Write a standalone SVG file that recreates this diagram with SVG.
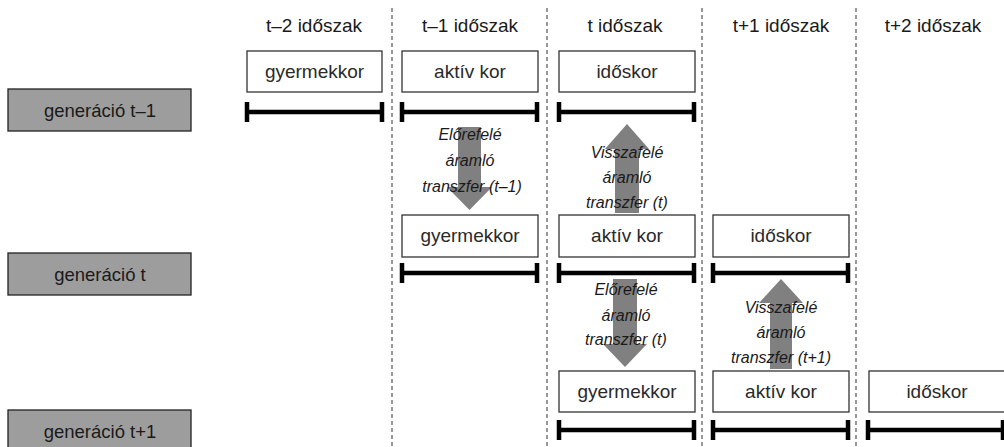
<svg xmlns="http://www.w3.org/2000/svg" width="1004" height="447" viewBox="0 0 1004 447">
<style>
.hdr{font-family:"Liberation Sans",Arial,sans-serif;font-size:19px;fill:#1a1a1a;text-anchor:middle}
.lbl{font-family:"Liberation Sans",Arial,sans-serif;font-size:19px;fill:#2a2a2a;text-anchor:middle}
.gen{font-family:"Liberation Sans",Arial,sans-serif;font-size:18.5px;fill:#1a1a1a;text-anchor:middle}
.it{font-family:"Liberation Sans",Arial,sans-serif;font-size:16px;font-style:italic;fill:#1a1a1a;text-anchor:middle}
.box{fill:#fff;stroke:#333;stroke-width:1.3}
.gbox{fill:#9d9d9d;stroke:#222;stroke-width:1.3}
.bar{stroke:#000;stroke-width:4.5;fill:none}
.sep{stroke:#777;stroke-width:1.5;stroke-dasharray:4 3;fill:none}
.arr{fill:#808080}
</style>
<defs>
<g id="span"><path class="bar" d="M0,0 H135 M0,-10 V10 M135,-10 V10"/></g>
</defs>
<g id="separators">
<line class="sep" x1="392" y1="8" x2="392" y2="447"/>
<line class="sep" x1="547" y1="8" x2="547" y2="447"/>
<line class="sep" x1="702" y1="8" x2="702" y2="447"/>
<line class="sep" x1="856" y1="8" x2="856" y2="447"/>
</g>
<g id="headers">
<text class="hdr" x="314" y="32">t–2 időszak</text>
<text class="hdr" x="470" y="32">t–1 időszak</text>
<text class="hdr" x="625" y="32">t időszak</text>
<text class="hdr" x="781" y="32">t+1 időszak</text>
<text class="hdr" x="933" y="32">t+2 időszak</text>
</g>
<g id="gen-t-1"><rect class="gbox" x="8" y="89" width="183" height="42"/><text class="gen" x="100" y="117">generáció t–1</text></g>
<g id="gen-t"><rect class="gbox" x="8" y="253" width="183" height="42"/><text class="gen" x="100" y="281">generáció t</text></g>
<g id="gen-t+1"><rect class="gbox" x="8" y="410" width="183" height="42"/><text class="gen" x="100" y="438">generáció t+1</text></g>
<g id="r1-child"><rect class="box" x="247" y="51" width="135" height="41"/><text class="lbl" x="314.5" y="78">gyermekkor</text><use href="#span" x="247" y="112"/></g>
<g id="r1-active"><rect class="box" x="402" y="51" width="136" height="41"/><text class="lbl" x="470" y="78">aktív kor</text><use href="#span" x="402" y="112"/></g>
<g id="r1-old"><rect class="box" x="559" y="51" width="136" height="41"/><text class="lbl" x="627" y="78">időskor</text><use href="#span" x="559" y="112"/></g>
<g id="r2-child"><rect class="box" x="402" y="215" width="136" height="42"/><text class="lbl" x="470" y="242">gyermekkor</text><use href="#span" x="402" y="273"/></g>
<g id="r2-active"><rect class="box" x="559" y="215" width="136" height="42"/><text class="lbl" x="627" y="242">aktív kor</text><use href="#span" x="559" y="273"/></g>
<g id="r2-old"><rect class="box" x="713" y="215" width="136" height="42"/><text class="lbl" x="781" y="242">időskor</text><use href="#span" x="713" y="273"/></g>
<g id="r3-child"><rect class="box" x="559" y="371" width="136" height="41"/><text class="lbl" x="627" y="398">gyermekkor</text><use href="#span" x="559" y="430"/></g>
<g id="r3-active"><rect class="box" x="713" y="371" width="136" height="41"/><text class="lbl" x="781" y="398">aktív kor</text><use href="#span" x="713" y="430"/></g>
<g id="r3-old"><rect class="box" x="869" y="371" width="140" height="41"/><text class="lbl" x="937" y="398">időskor</text><use href="#span" x="868" y="430"/></g>
<g id="connectors">
<polygon class="arr" points="458,127 481,127 481,187 492,187 469.5,210 447,187 458,187"/>
<polygon class="arr" points="627,124 649,149 639,149 639,213 615,213 615,149 605,149"/>
<polygon class="arr" points="613,279 637,279 637,344 647,344 625,367 603,344 613,344"/>
<polygon class="arr" points="781,279 803,303 792,303 792,369 770,369 770,303 759,303"/>
<text class="it" x="470" y="140">Előrefelé</text>
<text class="it" x="470" y="166">áramló</text>
<text class="it" x="472" y="192">transzfer (t–1)</text>
<text class="it" x="627" y="158">Visszafelé</text>
<text class="it" x="627" y="183">áramló</text>
<text class="it" x="627" y="208">transzfer (t)</text>
<text class="it" x="626" y="295">Előrefelé</text>
<text class="it" x="626" y="321">áramló</text>
<text class="it" x="626" y="345">transzfer (t)</text>
<text class="it" x="781" y="313">Visszafelé</text>
<text class="it" x="781" y="338">áramló</text>
<text class="it" x="781" y="363">transzfer (t+1)</text>
</g>
</svg>
